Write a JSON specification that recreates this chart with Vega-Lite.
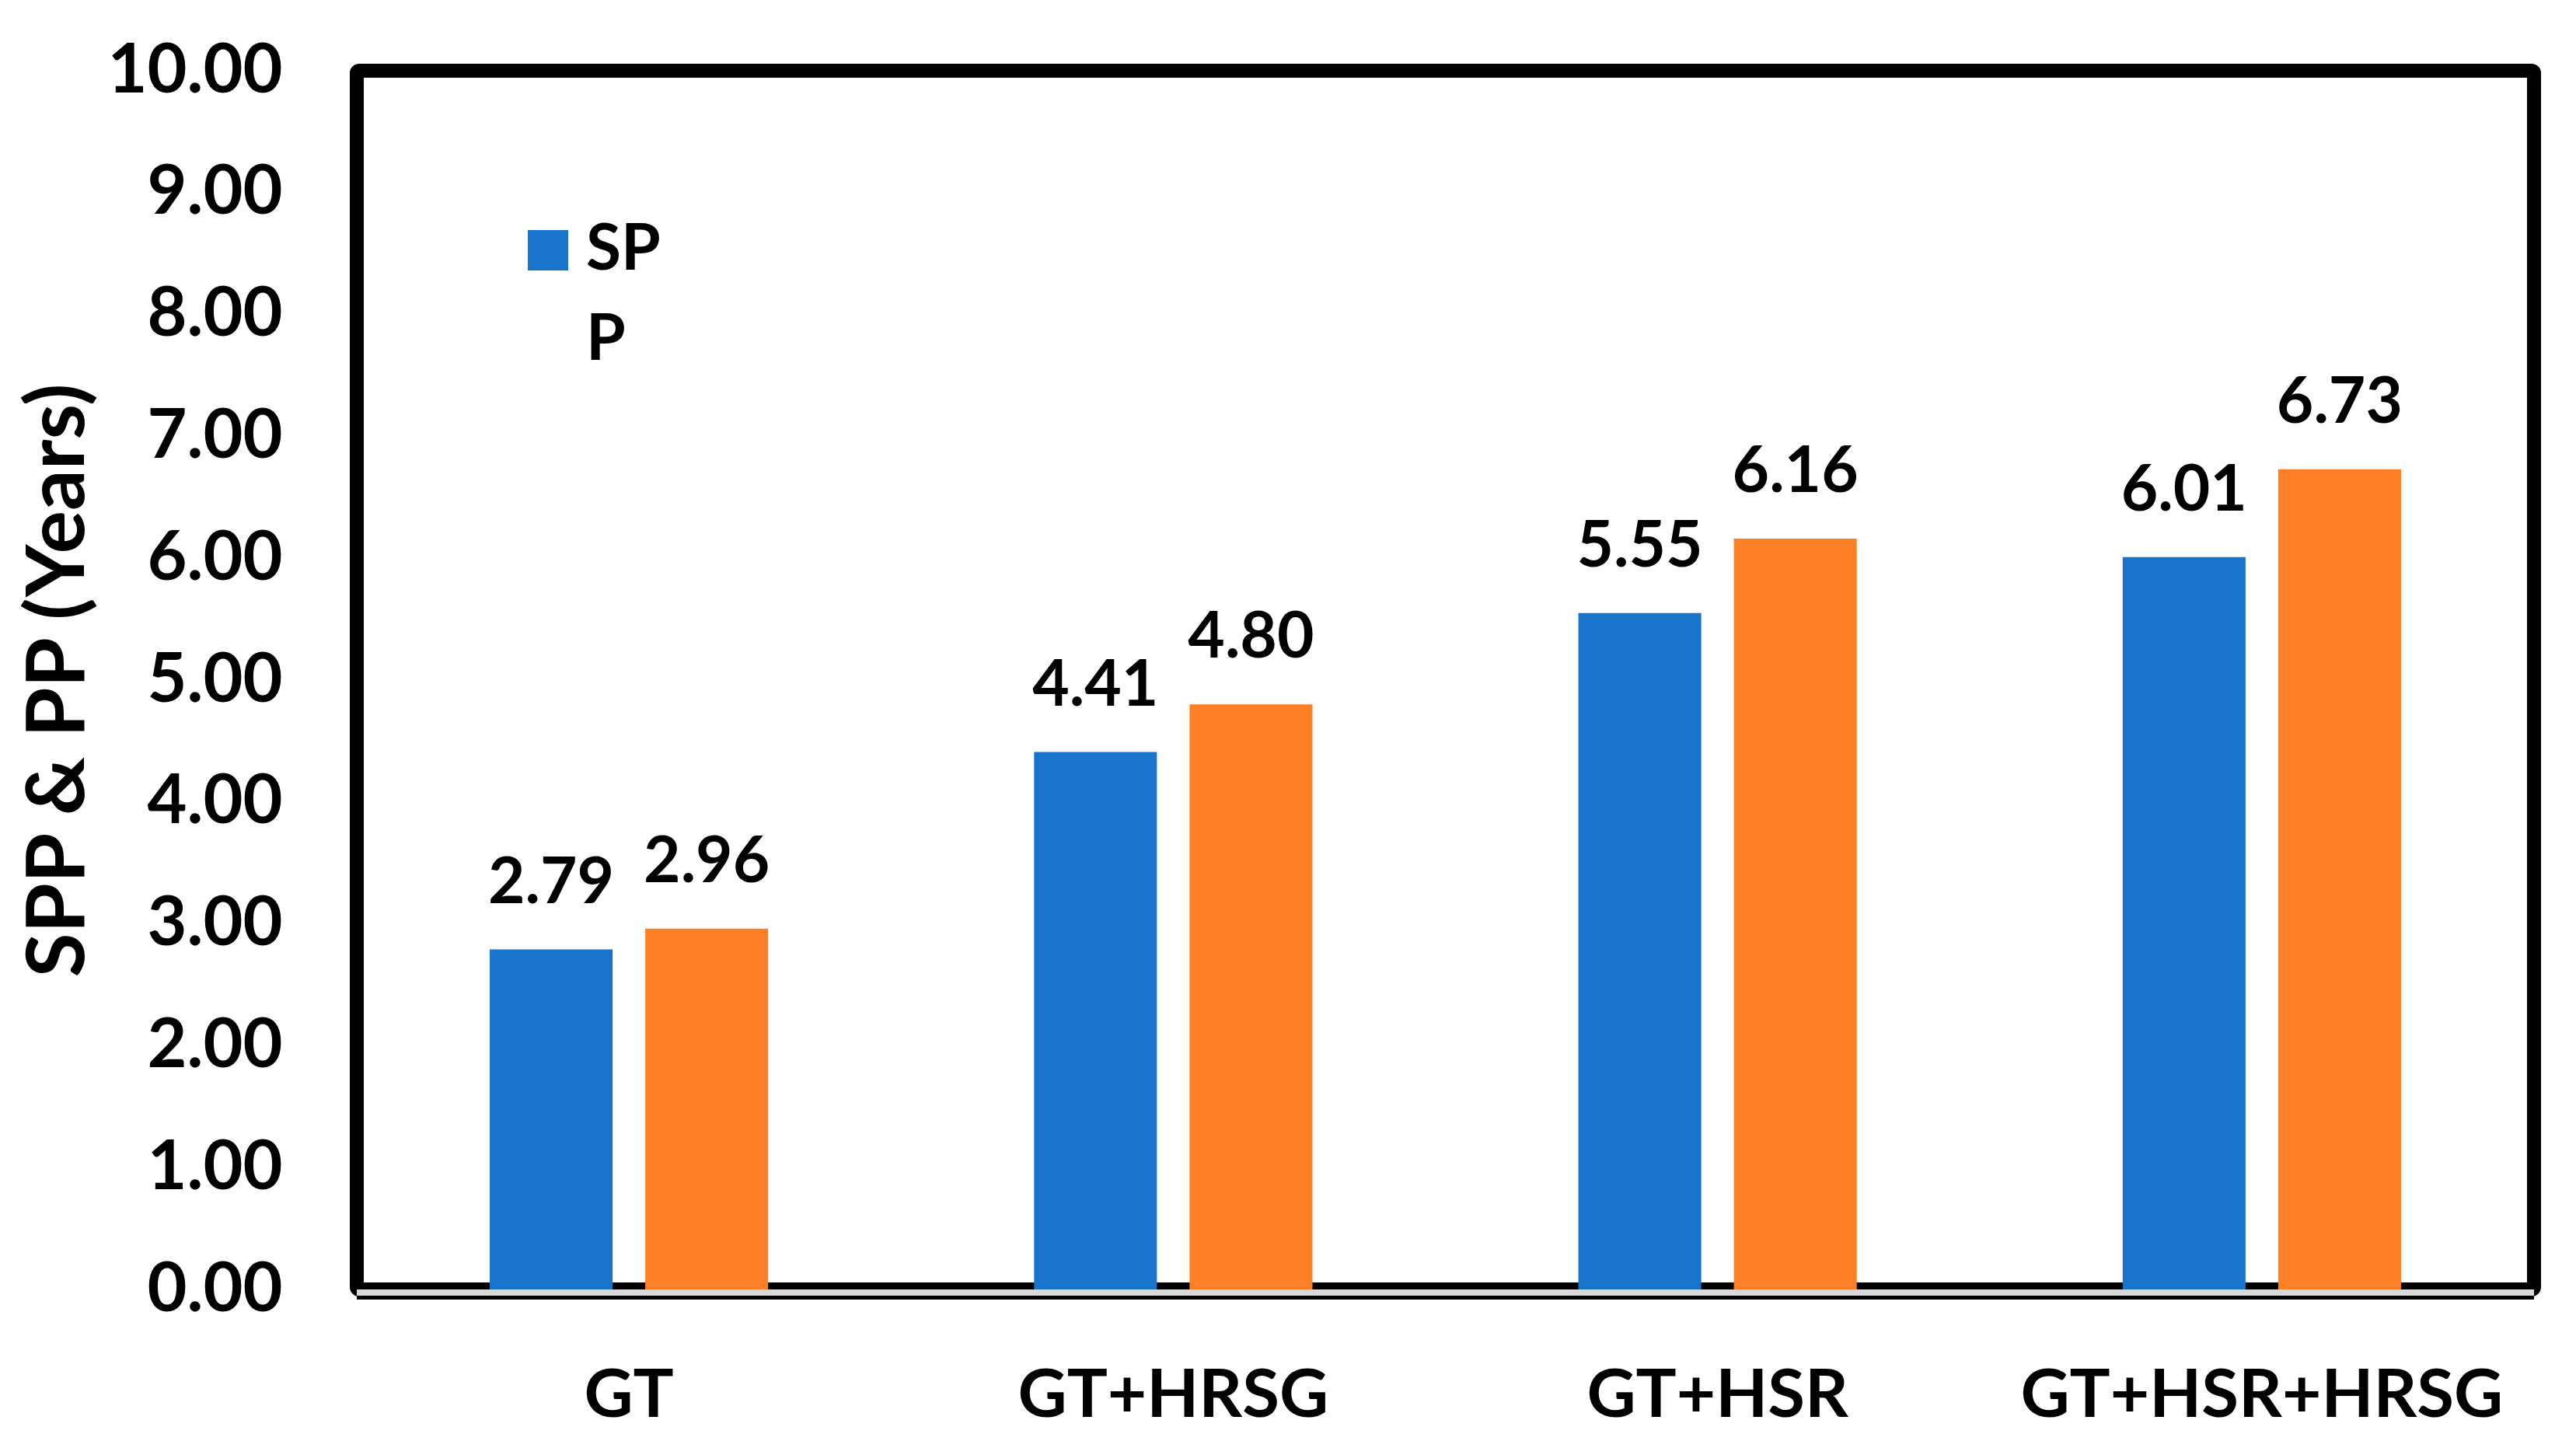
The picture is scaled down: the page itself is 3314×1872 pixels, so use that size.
{
  "$schema": "https://vega.github.io/schema/vega-lite/v6.json",
  "width": 2801,
  "height": 1568,
  "autosize": {"type": "none"},
  "padding": {"left": 459, "top": 91, "right": 54, "bottom": 213},
  "background": "white",
  "config": {
    "font": "Lato",
    "view": {"stroke": "black", "strokeWidth": 18, "cornerRadius": 3},
    "axis": {"grid": false, "domain": false, "ticks": false, "labelColor": "black", "titleColor": "black", "labelLimit": 0}
  },
  "data": {
    "values": [
      {"config": "GT", "metric": "SPP", "years": 2.79},
      {"config": "GT", "metric": "PP", "years": 2.96},
      {"config": "GT+HRSG", "metric": "SPP", "years": 4.41},
      {"config": "GT+HRSG", "metric": "PP", "years": 4.80},
      {"config": "GT+HSR", "metric": "SPP", "years": 5.55},
      {"config": "GT+HSR", "metric": "PP", "years": 6.16},
      {"config": "GT+HSR+HRSG", "metric": "SPP", "years": 6.01},
      {"config": "GT+HSR+HRSG", "metric": "PP", "years": 6.73}
    ]
  },
  "layer": [
    {
      "mark": {"type": "bar"},
      "encoding": {
        "x": {
          "field": "config", "type": "nominal",
          "sort": ["GT", "GT+HRSG", "GT+HSR", "GT+HSR+HRSG"],
          "scale": {"paddingInner": 0, "paddingOuter": 0},
          "axis": {"title": null, "labelAngle": 0, "labelFontSize": 87, "labelFontWeight": "bold", "labelPadding": 163, "labelBaseline": "alphabetic", "labelLimit": 0}
        },
        "xOffset": {
          "field": "metric", "type": "nominal", "sort": ["SPP", "PP"],
          "scale": {"paddingInner": 0.21, "paddingOuter": 0.855}
        },
        "y": {
          "field": "years", "type": "quantitative",
          "scale": {"domain": [0, 10], "nice": false},
          "axis": {
            "values": [0, 1, 2, 3, 4, 5, 6, 7, 8, 9, 10],
            "format": ".2f",
            "labelFontSize": 88, "labelFontWeight": "bold", "labelLimit": 0,
            "labelPadding": 96, "labelBaseline": "alphabetic", "labelOffset": 27,
            "title": "SPP & PP (Years)", "titleFontSize": 104, "titleFontWeight": "bold",
            "titleAngle": -90, "titleX": -352, "titleY": 784, "titleAlign": "center", "titleBaseline": "alphabetic"
          }
        },
        "color": {
          "field": "metric", "type": "nominal",
          "scale": {"domain": ["SPP", "PP"], "range": ["#1874CB", "#FF7F27"]},
          "legend": {
            "orient": "none", "legendX": 205, "legendY": 190, "title": null, "direction": "vertical",
            "symbolType": "square", "symbolSize": 2704, "symbolStrokeWidth": 0,
            "labelFontSize": 82, "labelFontWeight": "bold", "labelColor": "black",
            "labelOffset": 8, "rowPadding": 34, "padding": 0,
            "labelExpr": "datum.label == 'SPP' ? 'SP' : 'P'",
            "encode": {"symbols": {"update": {"opacity": {"signal": "datum.value == 'SPP' ? 1 : 0"}}}}
          }
        }
      }
    },
    {
      "mark": {"type": "text", "dy": -60, "baseline": "alphabetic", "fontSize": 82, "fontWeight": "bold", "color": "black"},
      "encoding": {
        "x": {"field": "config", "type": "nominal", "sort": ["GT", "GT+HRSG", "GT+HSR", "GT+HSR+HRSG"]},
        "xOffset": {"field": "metric", "type": "nominal", "sort": ["SPP", "PP"]},
        "y": {"field": "years", "type": "quantitative"},
        "text": {"field": "years", "type": "quantitative", "format": ".2f"}
      }
    },
    {
      "mark": {"type": "rule", "color": "#D9D9D9", "strokeWidth": 8, "yOffset": 4},
      "encoding": {"y": {"datum": 0}}
    },
    {
      "mark": {"type": "rule", "color": "black", "strokeWidth": 5, "yOffset": 10.5},
      "encoding": {"y": {"datum": 0}}
    }
  ]
}
